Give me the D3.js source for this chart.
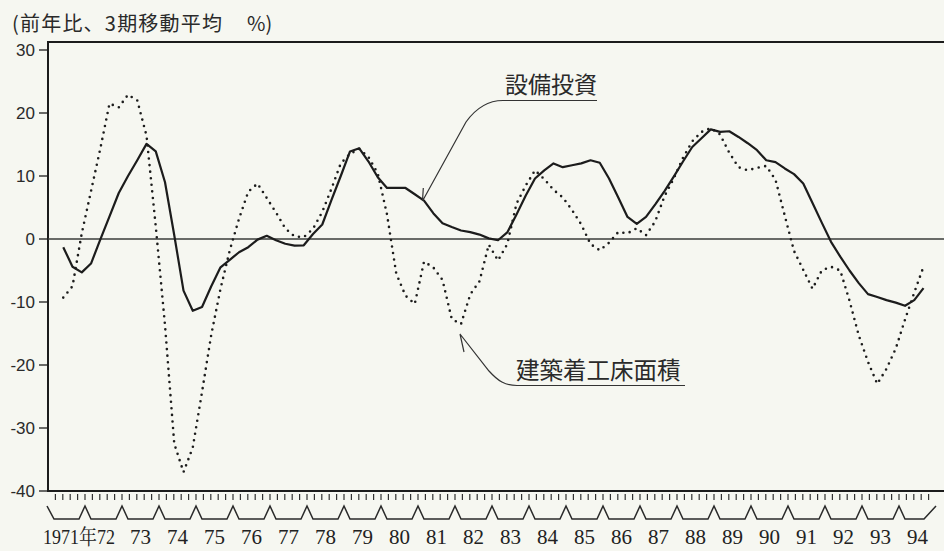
<!DOCTYPE html>
<html><head><meta charset="utf-8">
<script src="https://cdn.jsdelivr.net/npm/d3@7/dist/d3.min.js"></script>
<style>
html,body{margin:0;padding:0;background:#f6f7f1;}
svg{display:block;}
</style></head>
<body>
<svg id="c" width="944" height="551"></svg>
<script>
// quarterly data, 1971Q2 .. 1994Q3 (3-quarter moving average, % y/y)
const years = d3.range(1971, 1995);
const yearLabels = ["1971年","72","73","74","75","76","77","78","79","80","81","82","83","84","85","86","87","88","89","90","91","92","93","94"];
const yTicks = [30, 20, 10, 0, -10, -20, -30, -40];
const firstQuarter = 1; // 0-based quarter index of first point (1971Q2)

const capex = [
 -1.3,-4.4,-5.3,-3.9,-0.1,3.6,7.3,10.0,12.5,15.1,13.9,9.0,0.6,-8.2,-11.4,-10.8,
 -7.5,-4.5,-3.3,-2.1,-1.3,-0.1,0.5,-0.2,-0.75,-1.05,-1.0,0.8,2.3,6.2,10.0,13.9,
 14.4,12.3,9.8,8.1,8.1,8.1,7.1,6.1,4.1,2.5,1.9,1.35,1.1,0.7,0.1,-0.2,
 1.05,3.9,6.9,9.6,10.9,12.0,11.4,11.7,12.0,12.5,12.1,9.6,6.6,3.5,2.4,3.5,
 5.5,7.6,9.9,12.3,14.6,16.0,17.4,17.0,17.1,16.2,15.2,14.1,12.5,12.2,11.2,10.3,
 8.8,5.7,2.6,-0.45,-2.8,-5.0,-7.0,-8.75,-9.2,-9.7,-10.1,-10.6,-9.7,-7.8
];
const floorArea = [
 -9.3,-7.5,0.9,7.6,14.3,21.5,20.9,22.9,22.0,16.4,2.0,-13.7,-32.5,-37.0,-33.1,-24.3,
 -15.2,-7.9,-1.8,3.2,7.5,8.8,6.5,4.2,1.7,0.4,0.3,1.6,4.3,8.0,12.0,13.5,
 14.3,13.0,10.4,3.9,-5.5,-9.0,-10.3,-3.6,-4.5,-6.5,-12.7,-13.5,-8.8,-6.7,-0.9,-3.4,
 -0.8,5.6,8.5,10.9,9.5,7.8,6.6,4.6,2.3,-0.8,-1.8,-0.6,1.1,0.9,1.7,0.6,
 2.8,6.8,9.6,12.9,15.5,17.0,17.6,16.6,13.7,11.4,10.9,11.3,11.6,9.4,3.7,-1.9,
 -4.9,-7.9,-5.0,-4.4,-5.0,-9.8,-15.3,-19.5,-23.0,-20.6,-17.4,-12.8,-8.5,-4.4
];
const seriesNames = ["設備投資", "建築着工床面積"];
const titleParts = ["(前年比、3期移動平均", "%)"];

(function () {
const svg = d3.select("#c");
const W = 944;
const mLeft = 48, mTop = 42, mBottom = 491;

// x: quarters since 1971Q1
const x = d3.scaleLinear().domain([0, years.length * 4]).range([mLeft, 936]);
const y = d3.scaleLinear().domain([-40, 30]).range([mBottom, 50]);
const ptX = i => x(firstQuarter + i + 0.65);

const ink = "#1c1c1c";
const txt = "#2a2a2a";

// title
const tt = svg.append("text").attr("y", 31)
  .attr("font-family", "'Noto Sans CJK JP', 'Noto Sans', sans-serif")
  .attr("font-size", 20).attr("fill", txt);
tt.append("tspan").attr("x", 12).attr("textLength", 210).attr("lengthAdjust", "spacing").text(titleParts[0]);
tt.append("tspan").attr("x", 247).text(titleParts[1]);

// frame
svg.append("line").attr("x1", mLeft - 1).attr("x2", W).attr("y1", mTop).attr("y2", mTop)
  .attr("stroke", ink).attr("stroke-width", 2);
svg.append("line").attr("x1", mLeft).attr("x2", mLeft).attr("y1", mTop - 1).attr("y2", mBottom + 1)
  .attr("stroke", ink).attr("stroke-width", 2);
svg.append("line").attr("x1", mLeft - 1).attr("x2", W).attr("y1", mBottom).attr("y2", mBottom)
  .attr("stroke", ink).attr("stroke-width", 2);

// zero line
svg.append("line").attr("x1", mLeft).attr("x2", W).attr("y1", y(0)).attr("y2", y(0))
  .attr("stroke", "#3a3d3a").attr("stroke-width", 1.4);

// y axis ticks + labels
const yAxis = svg.append("g");
yTicks.forEach(t => {
  yAxis.append("line").attr("x1", mLeft - 9).attr("x2", mLeft).attr("y1", y(t)).attr("y2", y(t))
    .attr("stroke", ink).attr("stroke-width", 1.3);
  yAxis.append("text").attr("x", mLeft - 13).attr("y", y(t)).attr("dy", "0.36em")
    .attr("text-anchor", "end").attr("font-family", "'Liberation Sans', Arial, sans-serif")
    .attr("font-size", 17).attr("fill", txt).text(t);
});

// x minor ticks (5 per year)
const minor = [];
years.forEach((yr, k) => { for (let j = 0; j < 5; j++) { if (k === 0 && j === 0) continue; minor.push(k * 4 + j * 0.8); } });
svg.append("g").selectAll("line").data(minor).join("line")
  .attr("x1", d => x(d)).attr("x2", d => x(d)).attr("y1", mBottom + 3).attr("y2", mBottom + 9)
  .attr("stroke", "#333").attr("stroke-width", 1.2);

// chevron year separators
const base = 519, peak = 506, hw = 6;
let p = `M${x(0) - 1},${peak} L${x(0) + hw},${base}`;
for (let k = 1; k < years.length; k++) {
  const bx = x(k * 4);
  p += ` L${bx - hw},${base} L${bx},${peak} L${bx + hw},${base}`;
}
p += ` L${x(years.length * 4) - hw - 6},${base} L${x(years.length * 4)},${peak}`;
svg.append("path").attr("d", p).attr("fill", "none").attr("stroke", txt).attr("stroke-width", 1.5);

// year labels (first two run together as "1971年72", as in the original)
const serif = "'Liberation Serif', 'Noto Serif CJK JP', serif";
svg.append("text").attr("x", 43).attr("y", 544).attr("font-family", serif)
  .attr("font-size", 21).attr("fill", "#222")
  .attr("textLength", 72).attr("lengthAdjust", "spacingAndGlyphs")
  .text(yearLabels[0] + yearLabels[1]);

svg.append("g").selectAll("text").data(yearLabels.slice(2)).join("text")
  .attr("x", (d, k) => x((k + 2) * 4 + 2)).attr("y", 544)
  .attr("text-anchor", "middle")
  .attr("font-family", serif)
  .attr("font-size", 21).attr("fill", "#222")
  .text(d => d);

// series
const line = d3.line().x((d, i) => ptX(i)).y(d => y(d));
svg.append("path").datum(floorArea).attr("d", line).attr("fill", "none")
  .attr("stroke", ink).attr("stroke-width", 2.6).attr("stroke-linecap", "round")
  .attr("stroke-dasharray", "0 6.6");
svg.append("path").datum(capex).attr("d", line).attr("fill", "none")
  .attr("stroke", ink).attr("stroke-width", 2.2).attr("stroke-linejoin", "round");

// annotations
const jp = "'Noto Sans CJK JP', sans-serif";
svg.append("text").attr("x", 505).attr("y", 93).attr("font-family", jp).attr("font-size", 23)
  .attr("fill", txt).text(seriesNames[0]);
svg.append("path").attr("d", "M597,100.5 L503,100.5 C488,100.5 476,108 466,122 L422.5,201 M422.5,201 L423.3,188")
  .attr("fill", "none").attr("stroke", "#333").attr("stroke-width", 1.2);

svg.append("text").attr("x", 516).attr("y", 379).attr("font-family", jp).attr("font-size", 23.5)
  .attr("fill", txt).text(seriesNames[1]);
svg.append("path").attr("d", "M685,385.5 L517,385.5 C505,385.5 498,381 489,371 L460,334 M460,334 L464,352")
  .attr("fill", "none").attr("stroke", "#333").attr("stroke-width", 1.2);
})();
</script>
</body></html>
